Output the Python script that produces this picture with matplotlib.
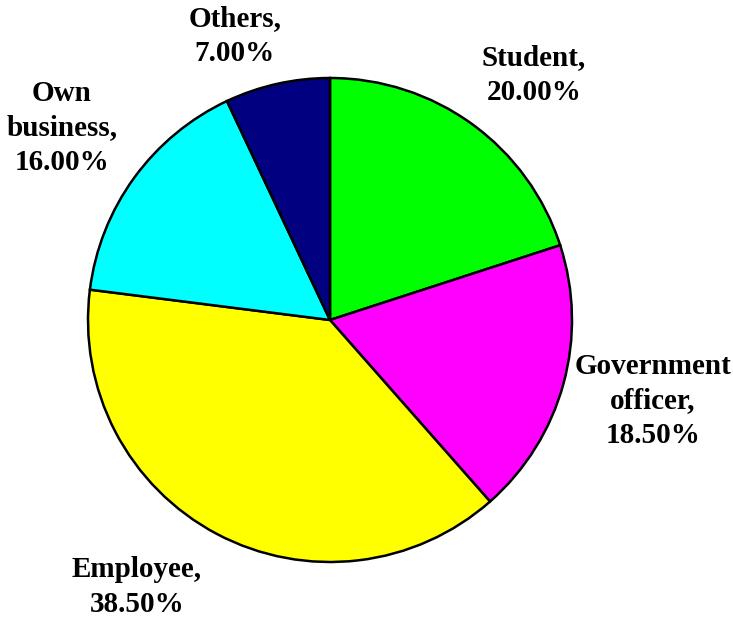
import matplotlib.pyplot as plt

# occupation shares, clockwise from 12 o'clock
categories = ['Student', 'Government\nofficer', 'Employee', 'Own\nbusiness', 'Others']
shares = [20.0, 18.5, 38.5, 16.0, 7.0]
colors = ['#00ff00', '#ff00ff', '#ffff00', '#00ffff', '#000080']

# label centres in pixels (x, y from top)
label_pos = [(534, 75), (653, 401), (137, 587), (62, 128), (235, 36)]

W, H = 733, 618
fig = plt.figure(figsize=(W / 100, H / 100), dpi=100)
ax = fig.add_axes([0, 0, 1, 1])
ax.set_xlim(0, W)
ax.set_ylim(0, H)
ax.set_aspect('equal')
ax.axis('off')

ax.pie(shares, colors=colors, startangle=90, counterclock=False,
       center=(330, H - 320), radius=242,
       wedgeprops=dict(edgecolor='black', linewidth=1.8))
ax.set_xlim(0, W)
ax.set_ylim(0, H)

for cat, val, (px, py) in zip(categories, shares, label_pos):
    ax.text(px, H - py, '%s,\n%.2f%%' % (cat, val), ha='center', va='center',
            fontsize=21, fontweight='bold', family='Liberation Serif',
            linespacing=1.38, multialignment='center')

fig.savefig('out.png', dpi=100)
